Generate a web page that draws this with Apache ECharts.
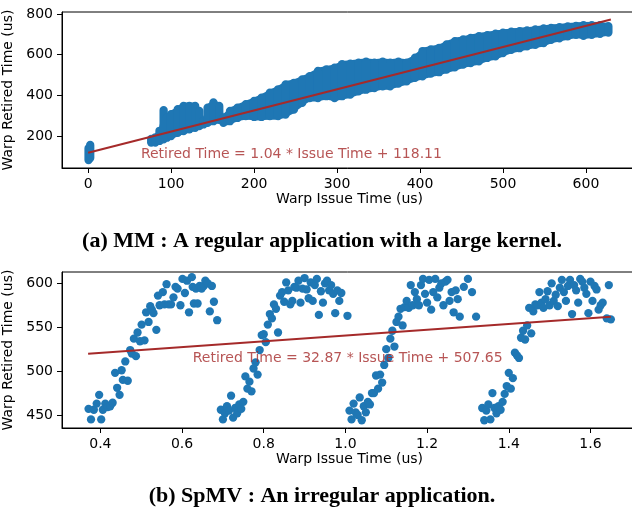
<!DOCTYPE html>
<html><head><meta charset="utf-8">
<script src="https://cdn.jsdelivr.net/npm/echarts@6/dist/echarts.min.js"></script>
<style>html,body{margin:0;padding:0;background:#fff}#c{width:632px;height:515px}</style>
</head><body><div id="c"></div>
<script>
// ---------- (a) MM : dense cloud, read as per-column extent of the point band ----------
const mmIssue   = [0.5, 2.5, 76, 81, 86, 91, 95, 100, 108, 115, 122, 129, 134, 139, 144, 151, 158, 163, 171, 180, 190, 200, 209, 219, 229, 238, 248, 258, 267, 277, 287, 297, 306, 316, 326, 335, 345, 355, 364, 374, 384, 394, 403, 413, 423, 432, 442, 452, 461, 471, 481, 491, 500, 510, 520, 529, 539, 549, 558, 568, 578, 588, 597, 607, 617, 627];
const mmRetLow  = [82, 92, 168, 168, 176, 184, 192, 200, 216, 225, 233, 241, 249, 257, 265, 273, 280, 265, 273, 289, 298, 294, 294, 298, 298, 306, 330, 363, 387, 387, 396, 387, 396, 404, 420, 428, 436, 445, 445, 458, 469, 486, 494, 507, 514, 527, 538, 551, 559, 567, 584, 592, 608, 624, 632, 641, 649, 657, 673, 681, 690, 698, 693, 698, 703, 709];
const mmRetHigh = [140, 156, 186, 194, 226, 327, 291, 308, 332, 348, 348, 348, 324, 275, 340, 365, 348, 291, 324, 340, 357, 373, 389, 413, 430, 454, 462, 479, 495, 520, 528, 536, 553, 556, 561, 566, 561, 566, 561, 566, 561, 585, 618, 626, 634, 651, 667, 675, 683, 691, 696, 703, 708, 713, 716, 719, 724, 729, 732, 735, 739, 742, 745, 745, 745, 740];
const mmFitX = [0, 630];
const mmSlope = 1.04, mmIntercept = 118.11;
const mmLabelAt = [63, 111];
const mmXTicks = [0, 100, 200, 300, 400, 500, 600];
const mmYTicks = [200, 400, 600, 800];

// ---------- (b) SpMV ----------
const spmvIssue = [
 0.371,0.377,0.384,0.391,0.397,0.402,0.406,0.412,0.418,0.424,0.430,0.436,0.441,0.447,0.452,0.455,0.461,0.467,0.473,0.477,0.482,0.487,0.491,0.497,0.501,0.508,0.512,0.518,0.522,0.526,0.530,0.537,0.541,0.545,0.553,0.557,0.562,0.567,0.573,0.579,0.584,0.589,0.596,0.601,0.607,0.612,0.617,0.624,0.626,0.629,0.634,0.638,0.643,0.648,0.653,0.657,0.663,0.668,0.673,0.678,0.686,
 0.695,0.700,0.705,0.710,0.715,0.720,0.725,0.730,0.735,0.740,0.745,0.750,0.755,0.760,0.765,0.770,0.775,0.780,0.785,0.790,0.795,0.800,0.805,0.810,0.815,0.820,0.825,0.830,0.835,0.840,0.845,0.850,0.855,0.860,0.865,0.870,0.875,0.880,0.885,0.890,0.895,0.900,0.905,0.910,0.915,0.920,0.925,0.930,0.935,0.940,0.945,0.950,0.955,0.960,0.965,0.970,0.975,0.980,0.985,0.990,1.005,
 1.010,1.015,1.020,1.025,1.030,1.035,1.040,1.045,1.050,1.055,1.060,1.065,1.070,1.075,1.080,1.085,1.090,1.095,1.100,1.105,1.110,1.115,1.120,1.125,1.130,1.135,1.140,1.145,1.150,1.155,1.160,1.165,1.170,1.175,1.180,1.185,1.190,1.195,1.200,1.205,1.210,1.215,1.220,1.225,1.230,1.235,1.240,1.245,1.250,1.255,1.260,1.265,1.270,1.275,1.280,1.290,1.300,1.310,1.320,
 1.335,1.340,1.345,1.350,1.355,1.360,1.365,1.370,1.375,1.380,1.385,1.390,1.395,1.400,1.405,1.410,1.415,1.420,1.425,1.430,1.435,1.440,1.445,1.450,1.455,1.460,1.465,1.470,1.475,1.480,1.485,1.490,1.495,1.500,1.505,1.510,1.515,1.520,1.525,1.530,1.535,1.540,1.545,1.550,1.555,1.560,1.565,1.570,1.575,1.580,1.585,1.590,1.595,1.600,1.605,1.610,1.615,1.620,1.625,1.630,1.640,1.645,1.650];
const spmvRetired = [
 457,445,456,463,473,445,456,463,459,460,464,498,481,473,501,490,511,489,524,520,537,517,544,534,553,535,567,556,574,570,566,547,586,575,590,576,599,576,576,584,596,594,575,605,589,603,567,607,596,577,594,577,597,594,597,603,600,568,597,579,558,
 456,445,452,460,455,472,447,458,452,462,457,465,494,480,488,477,503,510,496,524,541,542,533,553,565,560,576,571,544,586,590,579,601,592,576,580,596,595,603,578,594,606,593,583,601,580,598,605,564,591,578,600,603,592,598,588,566,592,580,589,563,
 455,445,463,453,450,470,444,460,453,465,462,475,475,495,480,496,487,507,525,515,537,546,528,556,562,571,552,573,580,572,598,575,590,582,575,598,605,588,578,604,570,590,605,584,595,600,575,602,604,580,590,567,592,582,562,596,605,590,562,
 458,444,455,462,445,475,458,452,460,456,465,474,483,498,480,492,521,518,515,538,546,536,552,572,543,568,576,575,590,578,572,582,591,575,600,580,587,574,595,604,590,580,597,604,565,598,592,578,605,602,595,588,566,602,580,597,593,570,575,578,560,598,559];
const spmvFitX = [0.37, 1.65];
const spmvSlope = 32.87, spmvIntercept = 507.65;
const spmvLabelAt = [0.625, 514];
const spmvXTicks = [0.4, 0.6, 0.8, 1.0, 1.2, 1.4, 1.6];
const spmvYTicks = [450, 500, 550, 600];

const captionA = '(a) MM : A regular application with a large kernel.';
const captionB = '(b) SpMV : An irregular application.';

// ---------- build ----------
const BLUE = '#1f77b4', BROWN = '#a52a2a';
const F = 'DejaVu Sans';
const R = 4.15;
const cloud = mmIssue.map((x, i) => [x, mmRetLow[i], mmRetHigh[i]]);
const spmv = spmvIssue.map((x, i) => [x, spmvRetired[i]]);
const fitLine = (xs, a, b) => xs.map(x => [x, a * x + b]);

function axisX(idx, min, max, ticks, fmt) {
  return {
    type: 'value', gridIndex: idx, min, max,
    name: 'Warp Issue Time (us)', nameLocation: 'middle', nameGap: 24,
    nameTextStyle: { fontFamily: F, fontSize: 14, color: '#000' },
    axisLine: { show: true, onZero: false, lineStyle: { color: '#000', width: 1 } },
    axisTick: { show: true, length: 5, inside: false, customValues: ticks, lineStyle: { color: '#000' } },
    axisLabel: { customValues: ticks, margin: 9, fontFamily: F, fontSize: 14, color: '#000', formatter: fmt },
    splitLine: { show: false }
  };
}
function axisY(idx, min, max, ticks) {
  return {
    type: 'value', gridIndex: idx, min, max,
    name: 'Warp Retired Time (us)', nameLocation: 'middle', nameGap: 40, nameRotate: 90,
    nameTextStyle: { fontFamily: F, fontSize: 14, color: '#000' },
    axisLine: { show: true, onZero: false, lineStyle: { color: '#000', width: 1 } },
    axisTick: { show: true, length: 5, inside: false, customValues: ticks, lineStyle: { color: '#000' } },
    axisLabel: { customValues: ticks, margin: 9, fontFamily: F, fontSize: 14, color: '#000' },
    splitLine: { show: false }
  };
}

// each column: a marker-wide round-capped bar, plus a trapezoid + plain filler
// bridging (with overlap) to the next column so the band reads as one blob
function cloudItem(params, api) {
  const i = params.dataIndex;
  const d = cloud[i];
  const a = api.coord([d[0], d[2]]), b = api.coord([d[0], d[1]]);
  const solid = { fill: BLUE, opacity: 1 };
  const children = [];
  const n = cloud[i + 1];
  if (n && n[0] - d[0] <= 15) {
    const a2 = api.coord([n[0], n[2]]), b2 = api.coord([n[0], n[1]]);
    const e = R * 0.8;
    children.push({ type: 'polygon',
      shape: { points: [[a[0] - 0.5, a[1] - e], [a2[0] + 0.5, a2[1] - e], [b2[0] + 0.5, b2[1] + e], [b[0] - 0.5, b[1] + e]] },
      style: solid });
    const top = Math.max(a[1], a2[1]) - e;
    const bot = Math.min(b[1], b2[1]) + e;
    if (bot > top) {
      children.push({ type: 'rect',
        shape: { x: a[0] - 1, y: top, width: a2[0] - a[0] + 2, height: bot - top },
        style: solid });
    }
  }
  children.push({ type: 'rect',
    shape: { x: a[0] - R, y: a[1] - R, width: 2 * R, height: b[1] - a[1] + 2 * R, r: R },
    style: solid });
  return { type: 'group', children };
}

const chart = echarts.init(document.getElementById('c'), null, { renderer: 'canvas' });
chart.setOption({
  animation: false,
  backgroundColor: '#fff',
  grid: [
    { left: 62, top: 12, width: 575, height: 156, show: true, borderColor: '#000', borderWidth: 1,
      backgroundColor: 'transparent', outerBoundsMode: 'none', containLabel: false },
    { left: 62, top: 272, width: 575, height: 156, show: true, borderColor: '#000', borderWidth: 1,
      backgroundColor: 'transparent', outerBoundsMode: 'none', containLabel: false }
  ],
  xAxis: [
    axisX(0, -31.5, 661.5, mmXTicks, v => String(Math.round(v))),
    axisX(1, 0.306, 1.714, spmvXTicks, v => v.toFixed(1))
  ],
  yAxis: [
    axisY(0, 43, 810, mmYTicks),
    axisY(1, 435.2, 612.9, spmvYTicks)
  ],
  series: [
    { type: 'custom', xAxisIndex: 0, yAxisIndex: 0, data: cloud, z: 2,
      itemStyle: { opacity: 1 }, encode: { x: 0, y: [1, 2] }, renderItem: cloudItem },
    { type: 'line', xAxisIndex: 0, yAxisIndex: 0, data: fitLine(mmFitX, mmSlope, mmIntercept), z: 3,
      symbol: 'none', lineStyle: { color: BROWN, width: 2 } },
    { type: 'scatter', xAxisIndex: 0, yAxisIndex: 0, data: [mmLabelAt], z: 4, symbolSize: 1,
      itemStyle: { color: 'rgba(0,0,0,0)' }, silent: true,
      label: { show: true, position: 'right', distance: 0, color: BROWN, fontFamily: F, fontSize: 14,
        formatter: () => `Retired Time = ${mmSlope.toFixed(2)} * Issue Time + ${mmIntercept.toFixed(2)}` } },

    { type: 'scatter', xAxisIndex: 1, yAxisIndex: 1, data: spmv, z: 2, symbolSize: 8.3,
      itemStyle: { color: BLUE, opacity: 1 } },
    { type: 'line', xAxisIndex: 1, yAxisIndex: 1, data: fitLine(spmvFitX, spmvSlope, spmvIntercept), z: 3,
      symbol: 'none', lineStyle: { color: BROWN, width: 2 } },
    { type: 'scatter', xAxisIndex: 1, yAxisIndex: 1, data: [spmvLabelAt], z: 4, symbolSize: 1,
      itemStyle: { color: 'rgba(0,0,0,0)' }, silent: true,
      label: { show: true, position: 'right', distance: 0, color: BROWN, fontFamily: F, fontSize: 14,
        formatter: () => `Retired Time = ${spmvSlope.toFixed(2)} * Issue Time + ${spmvIntercept.toFixed(2)}` } }
  ],
  graphic: [
    { type: 'text', x: 322, y: 241, style: { text: captionA, fill: '#000', font: 'bold 22px "Liberation Serif"', align: 'center', verticalAlign: 'middle' } },
    { type: 'text', x: 322, y: 496, style: { text: captionB, fill: '#000', font: 'bold 22px "Liberation Serif"', align: 'center', verticalAlign: 'middle' } }
  ]
});
</script>
</body></html>
